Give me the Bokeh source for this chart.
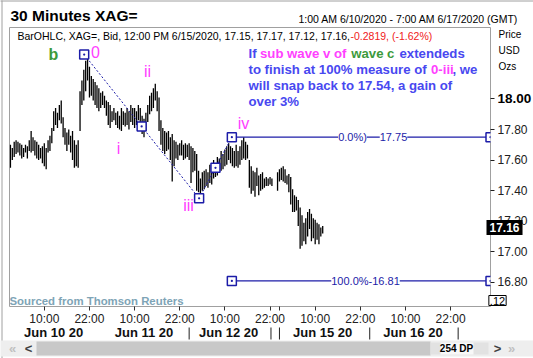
import math
from bokeh.plotting import figure
from bokeh.models import Range1d, LinearAxis, FixedTicker, Label, PrintfTickFormatter
from bokeh.core.properties import value
from bokeh.embed import file_html
from bokeh.resources import INLINE

# ---------------- data (30-minute bars, index 0 = 1:00 AM 6/10/2020 GMT) ----------------
bar_idx = list(range(0, 140)) + list(range(142, 167))
highs = [17.70, 17.68, 17.72, 17.73, 17.72, 17.71, 17.70, 17.68, 17.70, 17.69,
         17.73, 17.79, 17.75, 17.73, 17.72, 17.70, 17.68, 17.69, 17.71, 17.68,
         17.73, 17.76, 17.81, 17.92, 17.94, 17.91, 17.96, 17.99, 17.88, 17.81,
         17.78, 17.80, 17.76, 17.79, 17.73, 17.70, 17.73, 18.05, 18.12, 18.19,
         18.25, 18.29, 18.21, 18.15, 18.13, 18.11, 18.09, 18.07, 18.04, 18.05,
         18.02, 17.99, 17.98, 17.96, 17.92, 17.94, 17.91, 17.92, 17.89, 17.94,
         17.92, 17.91, 17.94, 17.92, 17.96, 17.94, 17.94, 17.92, 17.96, 17.94,
         17.89, 17.87, 17.91, 17.96, 18.02, 18.04, 18.07, 18.10, 18.05, 18.01,
         17.86, 17.81, 17.79, 17.78, 17.79, 17.75, 17.77, 17.73, 17.72, 17.70,
         17.71, 17.73, 17.70, 17.71, 17.70, 17.71, 17.69, 17.68, 17.66, 17.64,
         17.53, 17.48, 17.52, 17.53, 17.54, 17.52, 17.57, 17.55, 17.60, 17.58,
         17.62, 17.61, 17.66, 17.64, 17.67, 17.69, 17.71, 17.69, 17.68, 17.66,
         17.70, 17.66, 17.69, 17.73, 17.75, 17.72, 17.70, 17.60, 17.56, 17.53,
         17.52, 17.55, 17.50, 17.51, 17.52, 17.48, 17.49, 17.48, 17.49, 17.48,
         17.52, 17.54, 17.55, 17.56, 17.54, 17.50, 17.51, 17.49, 17.41, 17.37,
         17.36, 17.34, 17.29, 17.24, 17.19, 17.22, 17.26, 17.28, 17.25, 17.22,
         17.21, 17.19, 17.18, 17.16, 17.17]
lows = [17.55, 17.60, 17.62, 17.64, 17.65, 17.63, 17.61, 17.62, 17.65, 17.61,
        17.66, 17.65, 17.66, 17.63, 17.61, 17.60, 17.61, 17.58, 17.56, 17.54,
        17.65, 17.66, 17.71, 17.79, 17.83, 17.81, 17.86, 17.84, 17.75, 17.70,
        17.66, 17.70, 17.65, 17.60, 17.55, 17.56, 17.55, 17.79, 17.96, 17.99,
        18.05, 18.12, 18.01, 18.02, 17.99, 17.96, 17.94, 17.92, 17.94, 17.96,
        17.94, 17.89, 17.83, 17.81, 17.85, 17.86, 17.83, 17.81, 17.80, 17.79,
        17.83, 17.82, 17.83, 17.80, 17.85, 17.83, 17.81, 17.83, 17.86, 17.82,
        17.77, 17.75, 17.79, 17.85, 17.90, 17.92, 17.94, 17.99, 17.92, 17.79,
        17.70, 17.66, 17.64, 17.66, 17.67, 17.60, 17.46, 17.56, 17.61, 17.60,
        17.63, 17.63, 17.60, 17.61, 17.62, 17.60, 17.45, 17.52, 17.53, 17.40,
        17.39, 17.34, 17.40, 17.41, 17.43, 17.42, 17.45, 17.44, 17.48, 17.49,
        17.50, 17.52, 17.53, 17.54, 17.56, 17.57, 17.60, 17.58, 17.56, 17.55,
        17.56, 17.55, 17.57, 17.60, 17.61, 17.60, 17.61, 17.42, 17.38, 17.40,
        17.36, 17.43, 17.37, 17.40, 17.41, 17.42, 17.43, 17.43, 17.44, 17.43,
        17.40, 17.46, 17.47, 17.46, 17.45, 17.44, 17.39, 17.31, 17.26, 17.26,
        17.27, 17.17, 17.02, 17.04, 17.07, 17.05, 17.10, 17.15, 17.07, 17.09,
        17.05, 17.08, 17.05, 17.10, 17.12]

# wave points of the trend-based extension (0, iii, iv)
wave_names = ["0", "iii", "iv"]
wave_idx = [39.2, 100.3, 117.7]
wave_price = [18.29, 17.35, 17.75]
fib_levels = [17.75, 16.81]
fib_texts = ["0.0%)", "17.75", "100.0%-16.81"]

price_ticks = [16.8, 17.0, 17.2, 17.4, 17.6, 17.8, 18.0]
time_tick_idx = [18, 42, 66, 90, 114, 138, 162, 186, 210, 234]
time_tick_labels = ["10:00", "22:00"] * 5
date_label_idx = [23, 71, 116, 166, 214]
date_labels = ["Jun 10 20", "Jun 11 20", "Jun 12 20", "Jun 15 20", "Jun 16 20"]
day_sep_idx = [95, 138.5, 143, 191, 238]
weekend_idx = 143
last_price = 17.16
data_points = 254

# ---------------- figure ----------------
X0, X1 = -0.5, 255.2
Y0, Y1 = 16.643, 18.467
FL, FT, FW, FH = 9, 27, 481, 279   # frame position in page pixels
W, H = 533, 358
NAN = math.nan


def px2x(px):
    return X0 + (px - FL) * (X1 - X0) / FW


def px2y(py):
    return Y1 - (py - FT) * (Y1 - Y0) / FH


FONT = "Liberation Sans"
NAVY = "#1c1ca8"
BLUE = "#4848f0"
MAG = "#ff40ff"
GREEN = "#3c9a3c"

p = figure(frame_width=FW, frame_height=FH, x_range=Range1d(X0, X1), y_range=Range1d(Y0, Y1),
           output_backend="svg", toolbar_location=None,
           x_axis_location=None, y_axis_location=None,
           min_border_left=FL, min_border_top=FT, min_border_right=W - FL - FW,
           min_border_bottom=H - FT - FH)
p.background_fill_color = "white"
p.border_fill_color = "white"
p.outline_line_color = "#a0a0a0"
p.outline_line_width = 1
p.xgrid.visible = False
p.ygrid.visible = False

# price axis (right)
yax = LinearAxis(ticker=FixedTicker(ticks=price_ticks, minor_ticks=[]),
                 formatter=PrintfTickFormatter(format="%.2f"),
                 major_label_overrides={18.0: " "})
yax.axis_line_color = None
yax.major_tick_out = 4
yax.major_tick_in = 0
yax.major_tick_line_color = "#202020"
yax.major_label_standoff = 3
yax.major_label_text_font = FONT
yax.major_label_text_font_size = "12px"
yax.major_label_text_color = "#202020"
p.add_layout(yax, "right")

# time-of-day axis (plus an unlabelled tick at the weekend break)
t_overrides = dict(zip(time_tick_idx, time_tick_labels))
t_overrides[weekend_idx] = " "
tax = LinearAxis(ticker=FixedTicker(ticks=sorted(time_tick_idx + [weekend_idx]), minor_ticks=[]),
                 major_label_overrides=t_overrides)
tax.axis_line_color = None
tax.major_tick_out = 4
tax.major_tick_in = 0
tax.major_tick_line_color = "#303030"
tax.major_label_standoff = 1
tax.major_label_text_font = FONT
tax.major_label_text_font_size = "12px"
tax.major_label_text_color = "#202020"
p.add_layout(tax, "below")

# date axis
dax = LinearAxis(ticker=FixedTicker(ticks=date_label_idx, minor_ticks=[]),
                 major_label_overrides=dict(zip(date_label_idx, date_labels)))
dax.axis_line_color = None
dax.major_tick_out = 0
dax.major_tick_in = 0
dax.major_label_standoff = -4
dax.major_label_text_font = FONT
dax.major_label_text_font_size = "13px"
dax.major_label_text_font_style = "bold"
dax.major_label_text_color = "#101010"
p.add_layout(dax, "below")

# price bars
p.segment(x0=bar_idx, y0=lows, x1=bar_idx, y1=highs, line_color="black", line_width=1.3)

# extension tool: dotted legs, fib lines, handles
p.line(wave_idx, wave_price, line_color=NAVY, line_dash="2 2", line_width=1)
for lv in fib_levels:
    p.segment(x0=[wave_idx[2]], y0=[lv], x1=[X1], y1=[lv], line_color=NAVY, line_width=1.2)
mid_x = [(wave_idx[0] + wave_idx[1]) / 2, (wave_idx[1] + wave_idx[2]) / 2]
mid_y = [(wave_price[0] + wave_price[1]) / 2, (wave_price[1] + wave_price[2]) / 2]
hx = wave_idx + mid_x + [wave_idx[2], X1, X1]
hy = wave_price + mid_y + [fib_levels[1], fib_levels[0], fib_levels[1]]
p.scatter(hx, hy, marker="square_dot", size=9, line_color=NAVY, fill_color="white", line_width=1.5)

fib_kw = dict(text_font=FONT, text_font_size="11px", text_color=NAVY, background_fill_color="white",
              text_align="center", text_baseline="middle")
p.add_layout(Label(x=px2x(352), y=fib_levels[0], text=fib_texts[0], **fib_kw))
p.add_layout(Label(x=px2x(393), y=fib_levels[0], text=fib_texts[1], **fib_kw))
p.add_layout(Label(x=px2x(365), y=fib_levels[1], text=fib_texts[2], **fib_kw))

# wave labels
wave_lbl = [("b", 53, 54, GREEN, "bold"), ("0", 95, 51, MAG, "normal"), ("ii", 147, 71, MAG, "normal"),
            ("i", 118, 148, MAG, "normal"), ("iii", 188, 205, MAG, "normal"), ("iv", 243, 123, MAG, "normal")]
for t, xx, yy, c, st in wave_lbl:
    p.add_layout(Label(x=px2x(xx), y=px2y(yy), text=t, text_color=c, text_font=FONT,
                       text_font_size="16px", text_font_style=st,
                       text_align="center", text_baseline="middle"))

# comment text
seg_lines = [
    [(248, "If", BLUE), (259.5, "sub wave v of", MAG), (350.7, "wave c", GREEN), (399, "extendeds", BLUE)],
    [(248, "to finish at 100% measure of", BLUE), (430.5, "0-iii", MAG), (452, ", we", BLUE)],
    [(248, "will snap back to 17.54, a gain of", BLUE)],
    [(248, "over 3%", BLUE)],
]
for ly, segs in zip([53, 69, 85, 101], seg_lines):
    for xx, t, c in segs:
        p.add_layout(Label(x=px2x(xx), y=px2y(ly), text=t, text_color=c, text_font=FONT,
                           text_font_size="13.2px", text_font_style="bold",
                           text_align="left", text_baseline="middle"))

p.add_layout(Label(x=px2x(17), y=px2y(35), text="BarOHLC, XAG=, Bid, 12:00 PM 6/15/2020, 17.15, 17.17, 17.12, 17.16,",
                   text_font=FONT, text_font_size="10.5px", text_color="black",
                   text_align="left", text_baseline="middle"))
p.add_layout(Label(x=px2x(350), y=px2y(35), text="-0.2819, (-1.62%)",
                   text_font=FONT, text_font_size="10.5px", text_color="#f02020",
                   text_align="left", text_baseline="middle"))
p.add_layout(Label(x=px2x(9), y=px2y(300), text="Sourced from Thomson Reuters", text_font=FONT,
                   text_font_size="11.4px", text_font_style="bold", text_color="#7ea4b6",
                   text_align="left", text_baseline="middle"))


# ---- items outside the frame: overlay-level glyphs ----
def otext(x, y, t, size, color, style="normal", align="left", **kw):
    p.text(x=[x], y=[y], text=[t], text_font=value(FONT), text_font_size=value(size),
           text_font_style=value(style), text_color=color, text_align=value(align),
           text_baseline=value("middle"), level="overlay", **kw)


# an anchor point inside the frame keeps each multi-part shape from being culled
ANCHOR_X, ANCHOR_Y = px2x(FL + 3), px2y(FT + FH - 3)


def anchored(parts_x, parts_y):
    xs, ys = [ANCHOR_X], [ANCHOR_Y]
    for a, b in zip(parts_x, parts_y):
        xs += [NAN] + list(a)
        ys += [NAN] + list(b)
    return xs, ys


otext(px2x(10), px2y(15), "30 Minutes XAG=", "15.5px", "black", "bold")
otext(px2x(518), px2y(18), "1:00 AM 6/10/2020 - 7:00 AM 6/17/2020 (GMT)", "10.5px", "black", align="right")
for t, yy in [("Price", 34), ("USD", 50), ("Ozs", 66)]:
    otext(px2x(498), px2y(yy), t, "10px", "black")
otext(px2x(497), 18.0, "18.00", "13.5px", "black", "bold")
otext(px2x(486), last_price, "%.2f" % last_price, "12px", "white", "bold",
      background_fill_color="black", padding=3)
otext(px2x(497), px2y(300), ".12", "11px", "black", align="center",
      background_fill_color="white", border_line_color="black", padding=1)

# day separators in the date row
sep_x = [[d, d] for d in day_sep_idx]
sep_y = [[px2y(327), px2y(339)] for d in day_sep_idx]
sx, sy = anchored(sep_x, sep_y)
p.multi_line(xs=[sx], ys=[sy], line_color="#202020", line_width=1, level="overlay")

# window border (left and top)
bx, by = anchored([[px2x(1.5), px2x(1.5)], [px2x(0), px2x(533)]],
                  [[px2y(0), px2y(358)], [px2y(0.5), px2y(0.5)]])
p.multi_line(xs=[bx], ys=[by], line_color="#a0a0a0", line_width=1, level="overlay")

# scrollbar strip
boxes = [(0, 533, 340, 356, "#eeeeee"), (36, 430, 341, 355, "#c8c8c8"),
         (430, 488, 342, 354, "#e2e2e2"), (440, 473, 342, 354, "#f8f8f8")]
pxs, pys, pcs = [], [], []
for l, r, t, b, c in boxes:
    ax, ay = anchored([[px2x(l), px2x(r), px2x(r), px2x(l)]], [[px2y(t), px2y(t), px2y(b), px2y(b)]])
    pxs.append(ax)
    pys.append(ay)
    pcs.append(c)
p.patches(xs=pxs, ys=pys, fill_color=pcs, line_color=None, level="overlay")
otext(px2x(456), px2y(348), "%d DP" % data_points, "10px", "black", "bold", align="center")
for t, xx, c in [("\u00ab", 12, "#c0c0c0"), ("<", 28, "#404040"), (">", 497, "#404040"), ("\u00bb", 511, "#c0c0c0")]:
    otext(px2x(xx), px2y(348), t, "13px", c, "bold", align="center")

open("out.html", "w").write(file_html(p, INLINE))
